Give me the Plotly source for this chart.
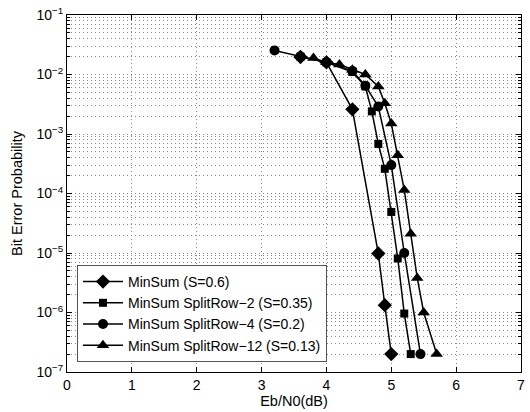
import plotly.graph_objects as go

# Data
minsum_x = [3.6, 4.0, 4.4, 4.8, 4.9, 5.0]
minsum_y = [1.97e-2, 1.6e-2, 2.6e-3, 9.8e-6, 1.33e-6, 2e-7]

sr2_x = [3.6, 4.0, 4.4, 4.6, 4.7, 4.8, 4.9, 5.0, 5.1, 5.2, 5.3]
sr2_y = [2.0e-2, 1.6e-2, 1.1e-2, 6.3e-3, 2.4e-3, 6.8e-4, 2.6e-4, 4.9e-5, 8.1e-6, 9.6e-7, 2e-7]

sr4_x = [3.2, 3.6, 4.0, 4.4, 4.6, 4.8, 5.0, 5.2, 5.45]
sr4_y = [2.54e-2, 2.0e-2, 1.6e-2, 1.15e-2, 6.5e-3, 2.9e-3, 3.0e-4, 1.0e-5, 2e-7]

sr12_x = [3.8, 4.0, 4.2, 4.4, 4.6, 4.8, 4.9, 5.0, 5.1, 5.2, 5.3, 5.4, 5.5, 5.7]
sr12_y = [1.9e-2, 1.6e-2, 1.47e-2, 1.2e-2, 1.0e-2, 6.3e-3, 3.3e-3, 1.5e-3, 4.4e-4, 1.15e-4, 2.1e-5, 3.8e-6, 1.0e-6, 2e-7]

names = ["MinSum (S=0.6)", "MinSum SplitRow\u22122 (S=0.35)",
         "MinSum SplitRow\u22124 (S=0.2)", "MinSum SplitRow\u221212 (S=0.13)"]
symbols = ["diamond", "square", "circle", "triangle-up"]
sizes = [11, 8, 10, 11]
xs = [minsum_x, sr2_x, sr4_x, sr12_x]
ys = [minsum_y, sr2_y, sr4_y, sr12_y]

x_ticks = [0, 1, 2, 3, 4, 5, 6, 7]
y_exps = [-7, -6, -5, -4, -3, -2, -1]

fig = go.Figure()
for x, y, n, s, sz in zip(xs, ys, names, symbols, sizes):
    fig.add_trace(go.Scatter(
        x=x, y=y, name=n, mode="lines+markers",
        line=dict(color="black", width=1.5),
        marker=dict(symbol=s, size=sz, color="black"),
    ))

font = dict(family="Liberation Sans, Arial, sans-serif", size=14.5, color="black")
tickfont = dict(family="Liberation Sans, Arial, sans-serif", size=14, color="black")
grid = "#888888"
dash = "1px,3px"

fig.update_layout(
    width=530, height=412,
    margin=dict(l=67, r=5, t=10, b=40),
    paper_bgcolor="white", plot_bgcolor="white",
    font=font,
    showlegend=True,
    legend=dict(
        x=0.022, y=0.028, xanchor="left", yanchor="bottom",
        bgcolor="white", bordercolor="#555", borderwidth=1,
        font=dict(family="Liberation Sans, Arial, sans-serif", size=14, color="black"),
        tracegroupgap=0, itemwidth=40,
    ),
)

fig.update_xaxes(
    range=[0, 7], tickvals=x_ticks, ticktext=[str(v) for v in x_ticks],
    tickfont=tickfont,
    title=dict(text="Eb/N0(dB)", standoff=1, font=font),
    showline=True, linecolor="black", linewidth=1, mirror="allticks",
    ticks="inside", ticklen=5, tickcolor="black",
    showgrid=True, gridcolor=grid, griddash=dash, gridwidth=1,
    zeroline=False,
)
fig.update_yaxes(
    type="log", range=[-7, -1],
    tickvals=[10.0 ** e for e in y_exps],
    ticktext=["10<sup>\u2212%d</sup>" % (-e) for e in y_exps],
    tickfont=tickfont,
    title=dict(text="Bit Error Probability", standoff=10, font=font),
    showline=True, linecolor="black", linewidth=1, mirror="allticks",
    ticks="inside", ticklen=5, tickcolor="black",
    showgrid=True, gridcolor=grid, griddash=dash, gridwidth=1,
    minor=dict(showgrid=True, gridcolor=grid, griddash=dash, gridwidth=1,
               ticks="inside", ticklen=3, tickcolor="black",
               tickvals=[m * 10.0 ** e for e in range(-7, -1) for m in range(2, 10)]),
    zeroline=False,
)

fig.write_html("out.html")
